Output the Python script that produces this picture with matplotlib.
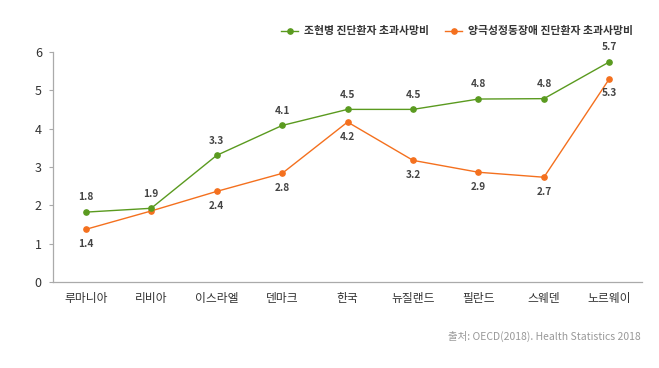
import matplotlib
matplotlib.use("Agg")
import matplotlib.pyplot as plt

plt.rcParams['font.family'] = ['Noto Sans CJK KR', 'DejaVu Sans']

categories = ["루마니아", "리비아", "이스라엘", "덴마크", "한국", "뉴질랜드", "필란드", "스웨덴", "노르웨이"]
green_vals = [1.82, 1.92, 3.30, 4.08, 4.50, 4.50, 4.77, 4.78, 5.74]
green_labels = ["1.8", "1.9", "3.3", "4.1", "4.5", "4.5", "4.8", "4.8", "5.7"]
orange_vals = [1.37, 1.85, 2.36, 2.83, 4.17, 3.17, 2.86, 2.73, 5.30]
orange_labels = ["1.4", "", "2.4", "2.8", "4.2", "3.2", "2.9", "2.7", "5.3"]
green_name = "조현병 진단환자 초과사망비"
orange_name = "양극성정동장애 진단환자 초과사망비"
source = "출처: OECD(2018). Health Statistics 2018"

GREEN = "#5a9a1f"
ORANGE = "#f4701e"
TXT = "#333333"

fig = plt.figure(figsize=(6.59, 3.68), dpi=100)
ax = fig.add_axes([0.0804, 0.234, 0.894, 0.625])
x = list(range(len(categories)))
ax.plot(x, green_vals, color=GREEN, lw=1.0, marker='o', ms=3.8, label=green_name, zorder=3)
ax.plot(x, orange_vals, color=ORANGE, lw=1.0, marker='o', ms=3.8, label=orange_name, zorder=2)

for xi, v, t in zip(x, green_vals, green_labels):
    if t:
        ax.annotate(t, (xi, v), xytext=(0, 7), textcoords='offset points', ha='center', va='bottom',
                    fontsize=7.3, color="#444444", fontweight='bold')
for xi, v, t in zip(x, orange_vals, orange_labels):
    if t:
        ax.annotate(t, (xi, v), xytext=(0, -7), textcoords='offset points', ha='center', va='top',
                    fontsize=7.3, color="#444444", fontweight='bold')

ax.set_xlim(-0.5, len(categories) - 0.5)
ax.set_ylim(0, 6)
ax.set_yticks(range(0, 7))
ax.set_xticks(x)
ax.set_xticklabels(categories, fontsize=8.5, color=TXT)
ax.tick_params(axis='y', labelsize=9, colors=TXT, length=3, color="#aaaaaa", pad=5)
ax.tick_params(axis='x', length=0, pad=7)
for s in ['top', 'right']:
    ax.spines[s].set_visible(False)
for s in ['left', 'bottom']:
    ax.spines[s].set_color("#aaaaaa")
    ax.spines[s].set_linewidth(0.9)

leg = fig.legend(loc='upper right', bbox_to_anchor=(0.975, 0.955), ncol=2, frameon=False,
                 fontsize=7.8, handlelength=1.6, columnspacing=1.5, handletextpad=0.5)
for t in leg.get_texts():
    t.set_color(TXT)
    t.set_fontweight('bold')

fig.text(0.973, 0.085, source, ha='right', va='center', fontsize=7.5, color="#999999")

fig.savefig("out.png", dpi=100)
